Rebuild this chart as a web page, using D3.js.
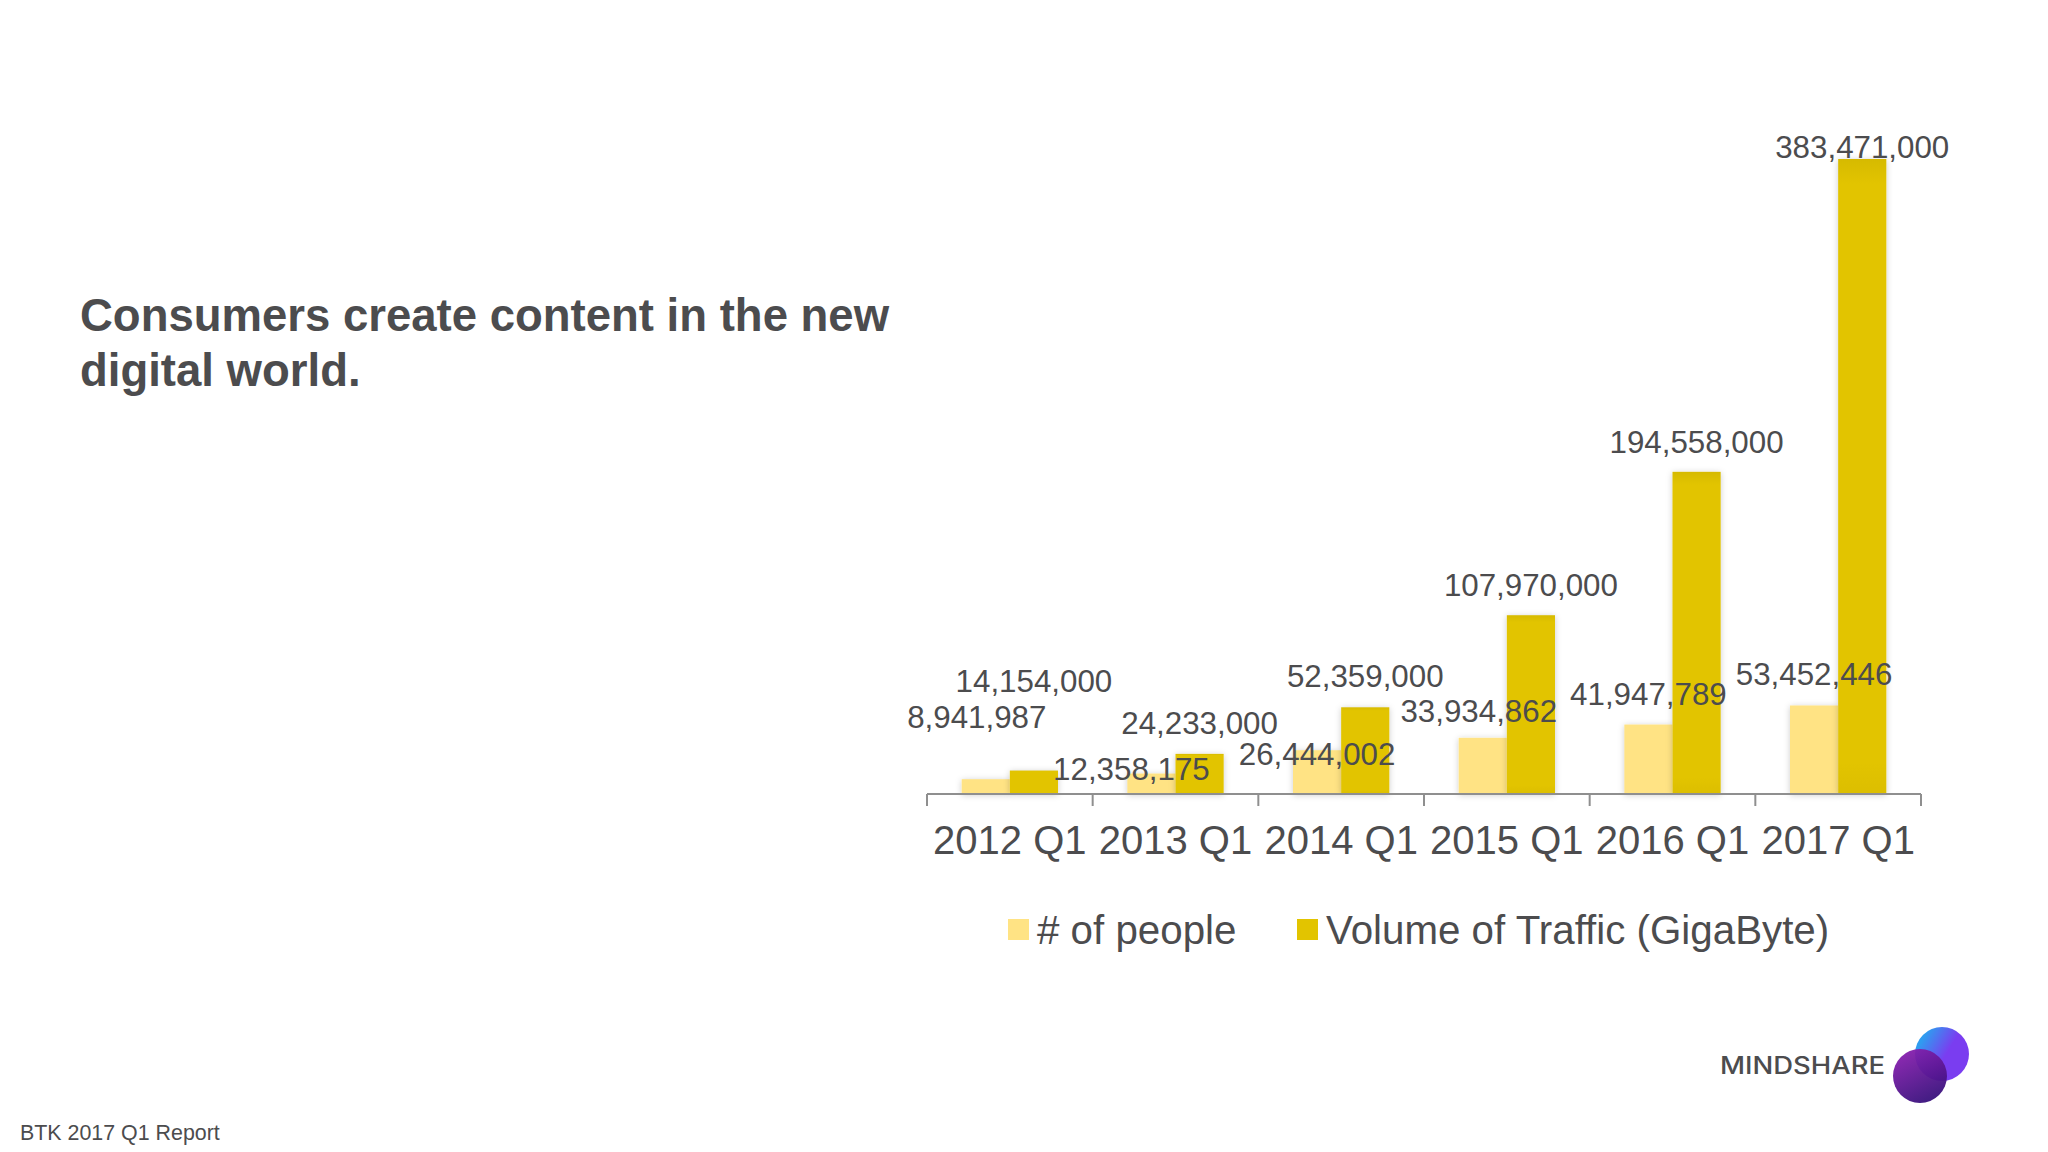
<!DOCTYPE html>
<html>
<head>
<meta charset="utf-8">
<script src="https://cdn.jsdelivr.net/npm/d3@7"></script>
<style>
  html, body { margin: 0; padding: 0; background: #fff; }
  text { font-family: "Liberation Sans", Arial, sans-serif; fill: #4c4c4e; }
</style>
</head>
<body>
<svg id="chart" width="2048" height="1152"></svg>
<script>
const categories = ["2012 Q1", "2013 Q1", "2014 Q1", "2015 Q1", "2016 Q1", "2017 Q1"];
const people = [8941987, 12358175, 26444002, 33934862, 41947789, 53452446];
const traffic = [14154000, 24233000, 52359000, 107970000, 194558000, 383471000];
const seriesNames = ["# of people", "Volume of Traffic (GigaByte)"];
const titleLines = ["Consumers create content in the new", "digital world."];
const footer = "BTK 2017 Q1 Report";
const logoText = "MINDSHARE";

const PEOPLE_COLOR = "#ffe384";
const TRAFFIC_COLOR = "url(#traffic-fill)";
const AXIS_COLOR = "#8f8f8f";

const PLOT = { left: 927, right: 1921, top: 159, bottom: 794 };

// hand placed data labels in the original slide: [dx, dy] from the default spot
const peopleLabelNudge = [[-9, -45], [-20, 12], [0, 21], [-4, -10], [0, -14], [0, -14]];
const trafficLabelNudge = [[0, -73], [0, -14], [0, -14], [0, -13], [0, -13], [0, 5]];

const svg = d3.select("#chart");

const defs = svg.append("defs");
defs.append("filter")
  .attr("id", "bar-shadow")
  .attr("x", "-30%").attr("width", "160%")
  .append("feDropShadow")
  .attr("dx", 0).attr("dy", 1)
  .attr("stdDeviation", 3)
  .attr("flood-color", "#000")
  .attr("flood-opacity", 0.2);

const trafficFill = defs.append("linearGradient").attr("id", "traffic-fill")
  .attr("x1", 0).attr("y1", 0).attr("x2", 0).attr("y2", 1);
trafficFill.append("stop").attr("offset", "0").attr("stop-color", "#d6ba00");
trafficFill.append("stop").attr("offset", "0.04").attr("stop-color", "#e2c400");
trafficFill.append("stop").attr("offset", "0.95").attr("stop-color", "#e2c400");
trafficFill.append("stop").attr("offset", "1").attr("stop-color", "#dcbe00");

const x = d3.scaleBand().domain(categories).range([PLOT.left, PLOT.right]);
const y = d3.scaleLinear().domain([0, d3.max(traffic)]).range([PLOT.bottom, PLOT.top]);
const inner = d3.scaleBand().domain([0, 1]).range([0, x.bandwidth()]).paddingInner(0).paddingOuter(0.72);

const seriesList = [
  { values: people, color: PEOPLE_COLOR, nudge: peopleLabelNudge },
  { values: traffic, color: TRAFFIC_COLOR, nudge: trafficLabelNudge }
];

// bars
seriesList.forEach((s, i) => {
  svg.append("g")
    .attr("filter", "url(#bar-shadow)")
    .selectAll("rect")
    .data(s.values)
    .join("rect")
    .attr("x", (d, k) => x(categories[k]) + inner(i))
    .attr("y", d => y(d))
    .attr("width", inner.bandwidth())
    .attr("height", d => y(0) - y(d))
    .attr("fill", s.color);
});

// axis, ticks sit on the band edges so the labels go through a separate axis call
const xAxis = d3.axisBottom(x).tickSize(0).tickPadding(32);
const axisG = svg.append("g")
  .attr("transform", `translate(0,${PLOT.bottom})`)
  .call(xAxis);
axisG.select(".domain").remove();
axisG.selectAll("text").style("font-size", "40px").style("font-family", '"Liberation Sans"');

const edges = categories.map(c => x(c)).concat(PLOT.right);
svg.append("g").selectAll("line")
  .data(edges)
  .join("line")
  .attr("x1", d => d).attr("x2", d => d)
  .attr("y1", PLOT.bottom).attr("y2", PLOT.bottom + 12)
  .attr("stroke", AXIS_COLOR).attr("stroke-width", 2);
svg.append("line")
  .attr("x1", PLOT.left).attr("x2", PLOT.right)
  .attr("y1", PLOT.bottom).attr("y2", PLOT.bottom)
  .attr("stroke", AXIS_COLOR).attr("stroke-width", 2);

// data labels
const fmt = d3.format(",");
seriesList.forEach((s, i) => {
  svg.append("g")
    .selectAll("text")
    .data(s.values)
    .join("text")
    .attr("x", (d, k) => x(categories[k]) + inner(i) + inner.bandwidth() / 2 + s.nudge[k][0])
    .attr("y", (d, k) => y(d) - 6 + s.nudge[k][1])
    .attr("text-anchor", "middle")
    .style("font-size", "31.3px")
    .text(d => fmt(d));
});

// legend
const legendX = [1008, 1297];
const legendColors = ["#ffe384", "#e2c400"];
const legendG = svg.append("g").selectAll("g")
  .data(seriesNames)
  .join("g")
  .attr("transform", (d, i) => `translate(${legendX[i]},930)`);
legendG.append("rect")
  .attr("y", -11).attr("width", 21).attr("height", 21)
  .attr("fill", (d, i) => legendColors[i]);
legendG.append("text")
  .attr("x", 29).attr("y", 14)
  .style("font-size", "40.3px")
  .text(d => d);

// title
svg.append("g").selectAll("text")
  .data(titleLines)
  .join("text")
  .attr("x", 80)
  .attr("y", (d, i) => 331 + i * 54.5)
  .style("font-size", "45.5px")
  .style("font-weight", "bold")
  .text(d => d);

svg.append("text")
  .attr("x", 20).attr("y", 1140)
  .style("font-size", "21.4px")
  .text(footer);

// logo
svg.append("text")
  .attr("x", 1720).attr("y", 1074)
  .attr("textLength", 165)
  .attr("lengthAdjust", "spacingAndGlyphs")
  .style("font-family", "Inter, sans-serif")
  .style("font-weight", 500)
  .style("font-size", "24px")
  .text(logoText);

const back = defs.append("linearGradient").attr("id", "logo-back")
  .attr("x1", 0).attr("y1", 0).attr("x2", 1).attr("y2", 0.6);
back.append("stop").attr("offset", "0.2").attr("stop-color", "#2f9cf0");
back.append("stop").attr("offset", "0.65").attr("stop-color", "#7a3df0");
const front = defs.append("linearGradient").attr("id", "logo-front")
  .attr("x1", 0.2).attr("y1", 0).attr("x2", 0.7).attr("y2", 1);
front.append("stop").attr("offset", "0").attr("stop-color", "#8a1fb0");
front.append("stop").attr("offset", "1").attr("stop-color", "#35107a");

svg.append("circle").attr("cx", 1942).attr("cy", 1054).attr("r", 27).attr("fill", "url(#logo-back)");
svg.append("circle").attr("cx", 1920).attr("cy", 1076).attr("r", 27).attr("fill", "url(#logo-front)").attr("fill-opacity", 0.95);
</script>
</body>
</html>
